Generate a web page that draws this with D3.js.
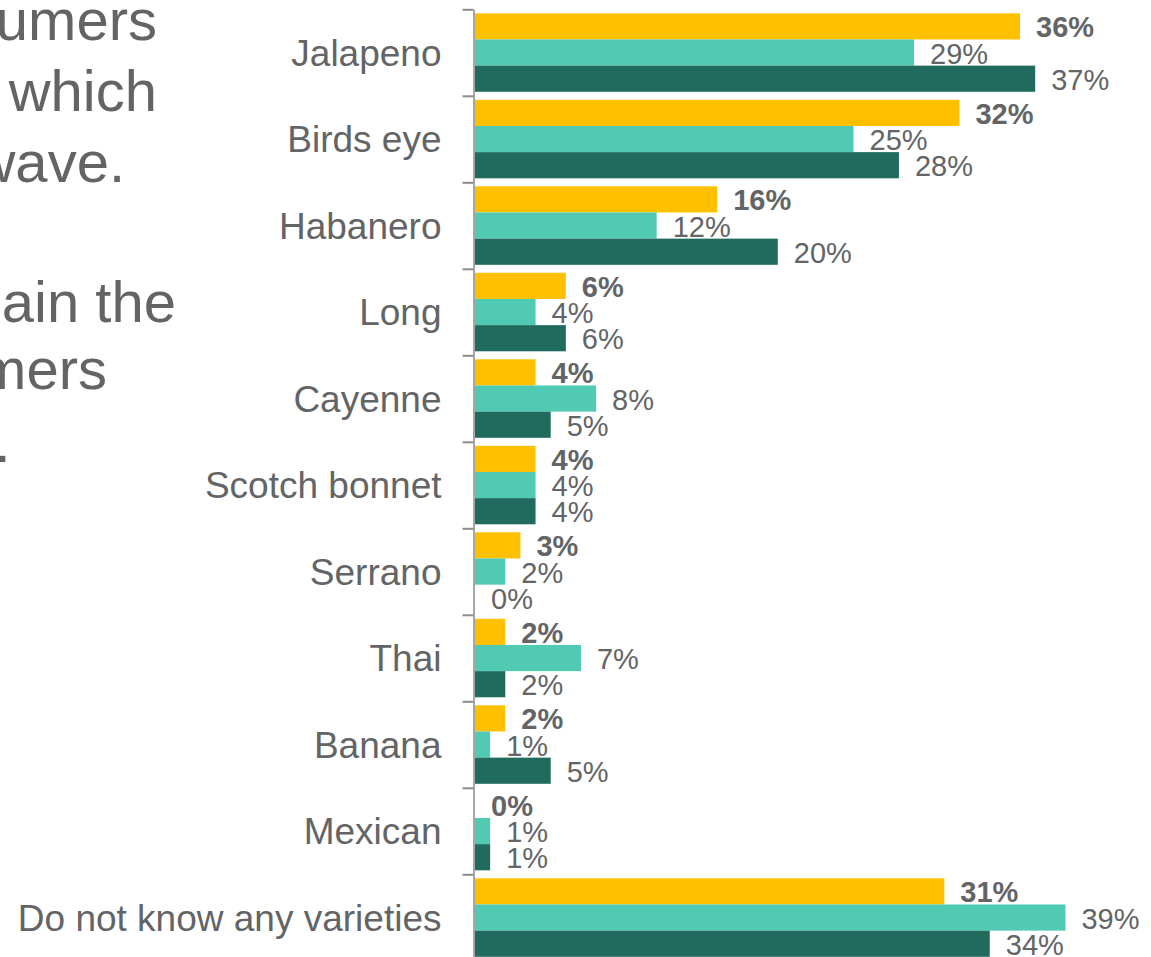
<!DOCTYPE html>
<html>
<head>
<meta charset="utf-8">
<script src="https://cdn.jsdelivr.net/npm/d3@7"></script>
<style>
  html, body { margin: 0; padding: 0; background: #ffffff; }
  svg { display: block; }
</style>
</head>
<body>
<svg id="chart" width="1151" height="957"></svg>
<script>
// Chilli varieties known, three survey waves (percent of respondents)
const categories = ["Jalapeno", "Birds eye", "Habanero", "Long", "Cayenne", "Scotch bonnet",
                    "Serrano", "Thai", "Banana", "Mexican", "Do not know any varieties"];
const latestWave  = [36, 32, 16, 6, 4, 4, 3, 2, 2, 0, 31];
const priorWave   = [29, 25, 12, 4, 8, 4, 2, 7, 1, 1, 39];
const earlierWave = [37, 28, 20, 6, 5, 4, 0, 2, 5, 1, 34];
const seriesNames = ["latest", "prior", "earlier"];

// Commentary text running off the left edge of the slide
const commentLines = ["consumers", "which", "wave.", "remain the", "consumers", "."];

const colors = { latest: "#FFC000", prior: "#51CAB4", earlier: "#216B5E" };
const textColor = "#636466";
const fontFamily = "'Liberation Sans', Arial, sans-serif";

const svg = d3.select("#chart");

const seriesValues = { latest: latestWave, prior: priorWave, earlier: earlierWave };
const rows = categories.map((c, i) => ({
  category: c,
  values: seriesNames.map(s => ({ series: s, value: seriesValues[s][i] }))
}));

// Scales
const plotTop = 9.3, bandStep = 86.5;
const y = d3.scaleBand()
  .domain(categories)
  .range([plotTop, plotTop + bandStep * categories.length])
  .padding(0);

const ySeries = d3.scaleBand()
  .domain(seriesNames)
  .range([4, y.bandwidth() - 4])
  .padding(0);

const x = d3.scaleLinear()
  .domain([0, 40])
  .range([475, 475 + 15.14 * 40]);

// Category boundary ticks and axis line
const yBound = d3.scaleLinear()
  .domain([0, categories.length])
  .range([plotTop, plotTop + bandStep * categories.length]);

const axisG = svg.append("g")
  .attr("transform", "translate(473.5,0)")
  .call(d3.axisLeft(yBound)
    .tickValues(d3.range(0, categories.length + 1))
    .tickSizeInner(11)
    .tickSizeOuter(0)
    .tickFormat(""));
axisG.select(".domain").attr("stroke", "#A6A6A6").attr("stroke-width", 2);
axisG.selectAll(".tick line").attr("stroke", "#8C8C8C").attr("stroke-width", 2);

// Category labels
const labelAxis = svg.append("g")
  .attr("transform", "translate(473.5,0)")
  .call(d3.axisLeft(y).tickSize(0).tickPadding(32));
labelAxis.select(".domain").remove();
labelAxis.selectAll(".tick text")
  .attr("font-family", fontFamily)
  .attr("font-size", 37)
  .attr("fill", textColor)
  .attr("dy", "0.35em");

// Bars
const groups = svg.append("g")
  .selectAll("g")
  .data(rows)
  .join("g")
  .attr("transform", d => `translate(0,${y(d.category)})`);

groups.selectAll("rect")
  .data(d => d.values)
  .join("rect")
  .attr("x", x(0))
  .attr("y", d => ySeries(d.series))
  .attr("width", d => x(d.value) - x(0))
  .attr("height", ySeries.bandwidth())
  .attr("fill", d => colors[d.series]);

// Value labels
groups.selectAll("text")
  .data(d => d.values)
  .join("text")
  .attr("x", d => x(d.value) + 16)
  .attr("y", d => ySeries(d.series) + ySeries.bandwidth() / 2 + 11)
  .attr("font-family", fontFamily)
  .attr("font-size", 29)
  .attr("font-weight", d => d.series === "latest" ? "bold" : "normal")
  .attr("fill", textColor)
  .text(d => d.value + "%");

// Commentary text
const commentEnds = [157, 157, 125, 176, 107, 10.6];
const commentBaselines = [39.5, 110.5, 181.5, 321.5, 389, 462];
svg.append("g")
  .selectAll("text")
  .data(commentLines)
  .join("text")
  .attr("x", (d, i) => commentEnds[i])
  .attr("y", (d, i) => commentBaselines[i])
  .attr("text-anchor", "end")
  .attr("font-family", fontFamily)
  .attr("font-size", 58)
  .attr("fill", textColor)
  .text(d => d);
</script>
</body>
</html>
